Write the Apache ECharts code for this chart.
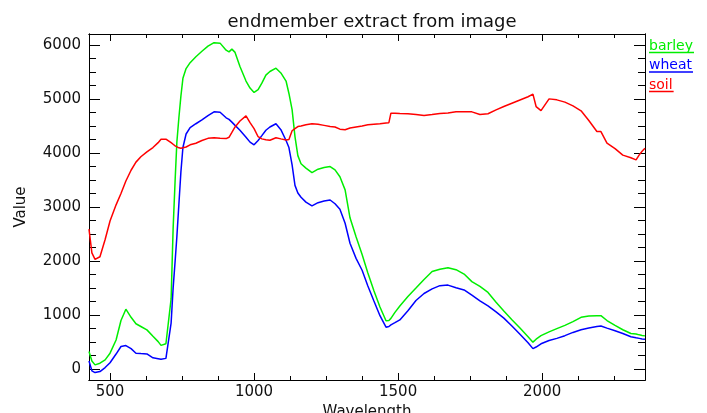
<!DOCTYPE html>
<html>
<head>
<meta charset="utf-8">
<title>endmember extract from image</title>
<script src="https://cdn.jsdelivr.net/npm/echarts@6/dist/echarts.min.js"></script>
<style>
  html, body { margin: 0; padding: 0; background: #fff; }
  #main { width: 707px; height: 413px; }
</style>
</head>
<body>
<div id="main"></div>
<script>
// wavelength samples (nm) shared by the three spectra
const wavelength = [
  427, 437, 448, 465, 483, 500, 521, 538, 555, 573,
  590, 607, 628, 649, 667, 677, 694, 712, 719, 726,
  732, 739, 746, 753, 764, 778, 798, 819, 840, 861,
  882, 903, 913, 923, 934, 951, 972, 986, 1000, 1014,
  1027, 1041, 1055, 1076, 1093, 1111, 1121, 1132, 1142, 1152,
  1163, 1180, 1201, 1222, 1243, 1264, 1281, 1298, 1316, 1333,
  1354, 1375, 1395, 1416, 1437, 1458, 1468, 1475, 1489, 1506,
  1534, 1562, 1590, 1618, 1645, 1673, 1701, 1729, 1756, 1784,
  1812, 1840, 1867, 1895, 1923, 1951, 1968, 1979, 1996, 2024,
  2051, 2079, 2107, 2135, 2162, 2190, 2204, 2225, 2253, 2280,
  2308, 2326, 2337, 2347, 2357
];

const barley = [
  326, 150, 80, 111, 172, 296, 540, 900, 1110, 960,
  840, 790, 727, 610, 510, 440, 470, 1300, 2600, 3500,
  4200, 4650, 5050, 5380, 5560, 5670, 5780, 5880, 5975, 6040,
  6031, 5900, 5870, 5920, 5860, 5600, 5330, 5200, 5120, 5170,
  5290, 5440, 5506, 5568, 5480, 5330, 5100, 4800, 4303, 3950,
  3800, 3720, 3637, 3700, 3730, 3748, 3687, 3560, 3317, 2800,
  2450, 2120, 1780, 1450, 1150, 895, 900, 940, 1050, 1170,
  1343, 1500, 1660, 1806, 1850, 1875, 1840, 1760, 1620, 1530,
  1420, 1240, 1075, 915, 760, 600, 500, 555, 620, 690,
  750, 810, 880, 960, 985, 990, 990, 900, 810, 730,
  660, 650, 635, 625, 616
];

const wheat = [
  150, -30, -63, -44, 30, 120, 280, 420, 437, 380,
  296, 290, 283, 210, 195, 185, 200, 850, 1500, 2000,
  2450, 3050, 3650, 4100, 4350, 4470, 4540, 4610, 4690, 4760,
  4754, 4650, 4620, 4570, 4510, 4420, 4290, 4200, 4150, 4230,
  4320, 4420, 4480, 4540, 4430, 4230, 4100, 3780, 3400, 3260,
  3180, 3090, 3021, 3080, 3110, 3130, 3060, 2960, 2700, 2330,
  2050, 1830, 1540, 1260, 990, 777, 790, 820, 860, 912,
  1080, 1270, 1400, 1485, 1545, 1555, 1505, 1465, 1370, 1265,
  1170, 1060, 945, 800, 648, 490, 380, 410, 470, 530,
  570, 620, 680, 730, 760, 790, 800, 760, 710, 660,
  600, 580, 570, 560, 555
];

const soil = [
  2590, 2150, 2030, 2080, 2400, 2740, 3040, 3250, 3480, 3680,
  3830, 3930, 4020, 4100, 4190, 4255, 4255, 4190, 4160, 4130,
  4110, 4095, 4088, 4095, 4110, 4150, 4180, 4230, 4270, 4280,
  4270, 4265, 4290, 4380, 4480, 4590, 4686, 4560, 4450, 4300,
  4260, 4245, 4235, 4280, 4260, 4240, 4250, 4410, 4450, 4488,
  4500, 4520, 4538, 4530, 4510, 4490, 4480, 4440, 4430, 4460,
  4480, 4500, 4520, 4530, 4540, 4555, 4560, 4736, 4735, 4730,
  4723, 4710, 4692, 4710, 4730, 4740, 4760, 4760, 4760, 4710,
  4724, 4797, 4860, 4920, 4980, 5040, 5087, 4858, 4784, 5000,
  4982, 4940, 4870, 4780, 4600, 4396, 4396, 4181, 4080, 3960,
  3910, 3872, 3964, 4030, 4088
];

// tick positions
const xMajorTicks = [500, 1000, 1500, 2000];
const xMinorTicks = [625, 750, 875, 1125, 1250, 1375, 1625, 1750, 1875, 2125, 2250];
const yMajorTicks = [0, 1000, 2000, 3000, 4000, 5000, 6000];
const yMinorTicks = [250, 500, 750, 1250, 1500, 1750, 2250, 2500, 2750, 3250, 3500, 3750,
                     4250, 4500, 4750, 5250, 5500, 5750];

const seriesNames = ['barley', 'wheat', 'soil'];
const seriesColors = ['#00ee00', '#0000ff', '#ff0000'];
const seriesValues = [barley, wheat, soil];

const FONT = '"DejaVu Sans", "Liberation Sans", sans-serif';
const X_MIN = 427, X_MAX = 2357, Y_MIN = -200, Y_MAX = 6200;

function plainNumber(v) { return String(v); }

function xAxisDef(pos, ticks, len, withLabels) {
  return {
    type: 'value', position: pos, min: X_MIN, max: X_MAX,
    axisLine: { show: true, onZero: false, lineStyle: { color: '#000', width: 1 } },
    axisTick: { show: true, inside: true, length: len, customValues: ticks, lineStyle: { color: '#000', width: 1 } },
    axisLabel: withLabels
      ? { show: true, customValues: ticks, formatter: plainNumber, color: '#111', fontSize: 15, fontFamily: FONT, margin: 5 }
      : { show: false },
    splitLine: { show: false }
  };
}

function yAxisDef(pos, ticks, len, withLabels) {
  return {
    type: 'value', position: pos, min: Y_MIN, max: Y_MAX,
    axisLine: { show: true, onZero: false, lineStyle: { color: '#000', width: 1 } },
    axisTick: { show: true, inside: true, length: len, customValues: ticks, lineStyle: { color: '#000', width: 1 } },
    axisLabel: withLabels
      ? { show: true, customValues: ticks, formatter: plainNumber, color: '#111', fontSize: 15, fontFamily: FONT, margin: 8 }
      : { show: false },
    splitLine: { show: false }
  };
}

const xAxes = [
  xAxisDef('bottom', xMajorTicks, 7, true),
  xAxisDef('bottom', xMinorTicks, 4, false),
  xAxisDef('top', xMajorTicks, 7, false),
  xAxisDef('top', xMinorTicks, 4, false)
];
Object.assign(xAxes[0], {
  name: 'Wavelength', nameLocation: 'middle', nameGap: 15,
  nameTextStyle: { color: '#111', fontSize: 15, fontFamily: FONT }
});

const yAxes = [
  yAxisDef('left', yMajorTicks, 11, true),
  yAxisDef('left', yMinorTicks, 7, false),
  yAxisDef('right', yMajorTicks, 11, false),
  yAxisDef('right', yMinorTicks, 7, false)
];
Object.assign(yAxes[0], {
  name: 'Value', nameLocation: 'middle', nameGap: 60,
  nameTextStyle: { color: '#111', fontSize: 15, fontFamily: FONT }
});

// legend drawn as underlined coloured labels to the right of the plot
const measureCtx = document.createElement('canvas').getContext('2d');
measureCtx.font = '14px ' + FONT;
const legendItems = [];
seriesNames.forEach(function (name, i) {
  const w = measureCtx.measureText(name).width;
  const top = 47 + i * 19.5;
  legendItems.push({
    type: 'text', left: 649, top: top - 8,
    style: { text: name, fill: seriesColors[i], font: '14px ' + FONT }
  });
  legendItems.push({
    type: 'line', shape: { x1: 649, y1: top + 5.5, x2: 649 + w + 1, y2: top + 5.5 },
    style: { stroke: seriesColors[i], lineWidth: 1.5 }
  });
});

const chart = echarts.init(document.getElementById('main'), null, { renderer: 'canvas' });
chart.setOption({
  backgroundColor: '#fff',
  animation: false,
  title: {
    text: 'endmember extract from image',
    left: 367, top: 8, textAlign: 'center',
    textStyle: { color: '#111', fontSize: 18, fontWeight: 'normal', fontFamily: FONT }
  },
  grid: { left: 89, right: 62, top: 34, bottom: 33, containLabel: false, outerBoundsMode: 'none' },
  xAxis: xAxes,
  yAxis: yAxes,
  graphic: legendItems,
  series: seriesNames.map(function (name, i) {
    return {
      name: name, type: 'line', xAxisIndex: 0, yAxisIndex: 0,
      showSymbol: false, smooth: false,
      lineStyle: { color: seriesColors[i], width: 1.5 },
      itemStyle: { color: seriesColors[i] },
      data: wavelength.map(function (w, k) { return [w, seriesValues[i][k]]; })
    };
  })
});
</script>
</body>
</html>
